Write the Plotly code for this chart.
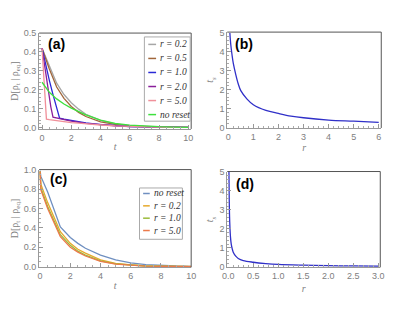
import plotly.graph_objects as go

W, H = 396, 314


def px(x):
    return x / W


def py(y):
    return 1 - y / H


# ---------------- Panel (a) data ----------------
t_a_r02 = [0, 0.5, 1, 1.5, 2, 2.5, 3, 4, 5, 6, 7, 8, 9, 10]
D_a_r02 = [0.42, 0.33, 0.235, 0.175, 0.132, 0.098, 0.071, 0.038, 0.02, 0.011, 0.006, 0.0035, 0.002, 0.001]
t_a_r05 = [0, 0.5, 1, 1.5, 2, 2.5, 3, 4, 5, 6, 7, 8, 9, 10]
D_a_r05 = [0.42, 0.31, 0.215, 0.155, 0.112, 0.081, 0.059, 0.031, 0.017, 0.009, 0.005, 0.003, 0.002, 0.001]
t_a_r10 = [0, 0.25, 0.5, 0.75, 1.0, 1.2, 1.5, 2, 2.5, 3, 4, 5, 6, 7, 8, 9, 10]
D_a_r10 = [0.42, 0.33, 0.25, 0.175, 0.1, 0.05, 0.045, 0.037, 0.03, 0.025, 0.016, 0.01, 0.006, 0.004, 0.0025, 0.0015, 0.001]
t_a_r20 = [0, 0.2, 0.4, 0.6, 0.75, 1, 1.5, 2, 3, 4, 5, 6, 7, 8, 9, 10]
D_a_r20 = [0.42, 0.31, 0.2, 0.11, 0.055, 0.05, 0.041, 0.034, 0.023, 0.015, 0.01, 0.006, 0.004, 0.0025, 0.0015, 0.001]
t_a_r50 = [0, 0.3, 0.5, 1, 1.5, 2, 2.5, 3, 4, 5, 6, 7, 8, 9, 10]
D_a_r50 = [0.42, 0.045, 0.042, 0.036, 0.03, 0.027, 0.024, 0.02, 0.014, 0.009, 0.006, 0.004, 0.0025, 0.0015, 0.001]
t_a_nores = [0, 0.5, 1, 1.5, 2, 2.5, 3, 4, 5, 6, 7, 8, 9, 10]
D_a_nores = [0.24, 0.187, 0.152, 0.125, 0.103, 0.086, 0.068, 0.04, 0.022, 0.013, 0.008, 0.005, 0.003, 0.002]

labels_a = ["r = 0.2", "r = 0.5", "r = 1.0", "r = 2.0", "r = 5.0", "no reset"]
colors_a = ["#a6a6a6", "#a0663a", "#2a2ad6", "#8a1f9a", "#f0909a", "#3ee03e"]
series_a = [(t_a_r02, D_a_r02), (t_a_r05, D_a_r05), (t_a_r10, D_a_r10),
            (t_a_r20, D_a_r20), (t_a_r50, D_a_r50), (t_a_nores, D_a_nores)]

# ---------------- Panel (b) data ----------------
r_b = [0.065, 0.1, 0.15, 0.2, 0.3, 0.4, 0.5, 0.75, 1, 1.5, 2, 2.5, 3, 4, 5, 6]
ts_b = [5.0, 4.4, 3.85, 3.4, 2.8, 2.3, 1.95, 1.5, 1.2, 0.9, 0.74, 0.6, 0.51, 0.39, 0.33, 0.27]

# ---------------- Panel (c) data ----------------
t_c = [0, 0.05, 0.5, 1.0, 1.34, 2, 2.5, 3, 4, 5, 6, 7, 8, 9, 10]
D_c_nores = [0.99, 0.93, 0.77, 0.56, 0.41, 0.30, 0.24, 0.19, 0.12, 0.07, 0.04, 0.022, 0.012, 0.007, 0.004]
D_c_r02 = [0.98, 0.85, 0.66, 0.47, 0.36, 0.24, 0.18, 0.14, 0.07, 0.035, 0.018, 0.009, 0.005, 0.003, 0.002]
D_c_r10 = [0.98, 0.81, 0.62, 0.44, 0.33, 0.22, 0.16, 0.12, 0.06, 0.03, 0.015, 0.007, 0.004, 0.002, 0.001]
D_c_r50 = [0.98, 0.79, 0.60, 0.42, 0.31, 0.20, 0.15, 0.11, 0.055, 0.027, 0.013, 0.006, 0.003, 0.002, 0.001]

labels_c = ["no reset", "r = 0.2", "r = 1.0", "r = 5.0"]
colors_c = ["#6f8fc0", "#e6a92c", "#9bbb3a", "#ec7a4a"]
series_c = [D_c_nores, D_c_r02, D_c_r10, D_c_r50]

# ---------------- Panel (d) data ----------------
r_d = [0.014, 0.02, 0.03, 0.045, 0.06, 0.08, 0.1, 0.15, 0.2, 0.3, 0.5, 0.75, 1.0, 1.5, 2.0, 2.5, 3.0]
ts_d = [5.0, 3.5, 2.35, 1.57, 1.2, 0.95, 0.78, 0.57, 0.45, 0.34, 0.25, 0.18, 0.135, 0.095, 0.07, 0.057, 0.047]

fig = go.Figure()

for (tt, dd), c, n in zip(series_a, colors_a, labels_a):
    fig.add_trace(go.Scatter(x=tt, y=dd, mode="lines", line=dict(color=c, width=1.3),
                             xaxis="x", yaxis="y", name=n, showlegend=False))
fig.add_trace(go.Scatter(x=r_b, y=ts_b, mode="lines", line=dict(color="#3030c8", width=1.3, shape="spline"),
                         xaxis="x2", yaxis="y2", showlegend=False))
for dd, c, n in zip(series_c, colors_c, labels_c):
    fig.add_trace(go.Scatter(x=t_c, y=dd, mode="lines", line=dict(color=c, width=1.3),
                             xaxis="x3", yaxis="y3", name=n, showlegend=False))
fig.add_trace(go.Scatter(x=r_d, y=ts_d, mode="lines", line=dict(color="#3030c8", width=1.3, shape="spline"),
                         xaxis="x4", yaxis="y4", showlegend=False))

tickfont = dict(family="Liberation Sans", size=9, color="#808080")
titlefont = dict(family="Liberation Serif", size=10, color="#808080")


def ax(domain, rng, dtick, mdtick, fmt=None, title=None, anchor=None, standoff=1):
    d = dict(domain=domain, range=rng, dtick=dtick, tick0=0, ticks="inside", ticklen=4,
             tickcolor="#999", tickwidth=1, showline=True, linecolor="#999", linewidth=1,
             mirror=False, showgrid=False, zeroline=False, tickfont=tickfont,
             minor=dict(ticks="inside", ticklen=2, dtick=mdtick, tickcolor="#aaa", showgrid=False),
             anchor=anchor)
    if fmt:
        d["tickformat"] = fmt
    if title:
        d["title"] = dict(text=title, font=titlefont, standoff=standoff)
    return d


dom_ax = [px(35), px(191)]
dom_ay = [py(128), py(29)]
dom_bx = [px(228), px(386)]
dom_by = [py(127), py(28)]
dom_cx = [px(35), px(191)]
dom_cy = [py(271), py(170)]
dom_dx = [px(228), px(385)]
dom_dy = [py(271), py(172)]

ytitle = "D[ρ<sub>t</sub> | ρ<sub>eq</sub>]"

fig.update_layout(
    width=W, height=H, margin=dict(l=0, r=0, t=0, b=0),
    paper_bgcolor="white", plot_bgcolor="white", showlegend=False,
    xaxis=ax(dom_ax, [-0.2, 10.2], 2, 0.5, title="<i>t</i>", anchor="y"),
    yaxis=ax(dom_ay, [-0.0067, 0.5], 0.1, 0.02, fmt=".1f", title=ytitle, anchor="x", standoff=3),
    xaxis2=ax(dom_bx, [-0.04, 6.1], 1, 0.2, title="<i>r</i>", anchor="y2"),
    yaxis2=ax(dom_by, [-0.03, 5.05], 1, 0.2, title="<i>t<sub>s</sub></i>", anchor="x2", standoff=3),
    xaxis3=ax(dom_cx, [-0.065, 10.0], 2, 0.5, title="<i>t</i>", anchor="y3"),
    yaxis3=ax(dom_cy, [-0.007, 1.0], 0.2, 0.05, fmt=".1f", title=ytitle, anchor="x3", standoff=3),
    xaxis4=ax(dom_dx, [-0.02, 3.04], 0.5, 0.1, fmt=".1f", title="<i>r</i>", anchor="y4", standoff=4),
    yaxis4=ax(dom_dy, [-0.02, 5.02], 1, 0.2, title="<i>t<sub>s</sub></i>", anchor="x4", standoff=3),
)

shapes = []
annotations = []
# Darker top/right frame edges
for xd, yd in [(dom_ax, dom_ay), (dom_bx, dom_by), (dom_cx, dom_cy), (dom_dx, dom_dy)]:
    shapes.append(dict(type="line", xref="paper", yref="paper", x0=xd[0], x1=xd[1], y0=yd[1], y1=yd[1],
                       line=dict(color="#555", width=1)))
    shapes.append(dict(type="line", xref="paper", yref="paper", x0=xd[1], x1=xd[1], y0=yd[0], y1=yd[1],
                       line=dict(color="#555", width=1)))

# Panel letters
for txt, x0, yc in [("(a)", 42, 40), ("(b)", 234, 40), ("(c)", 44, 180), ("(d)", 235, 185)]:
    annotations.append(dict(text="<b>" + txt + "</b>", xref="paper", yref="paper", x=px(x0), y=py(yc),
                            xanchor="left", yanchor="middle", showarrow=False,
                            font=dict(family="Liberation Sans", size=14, color="black")))

legfont = dict(family="Liberation Serif", size=9.5, color="#333")

# Legend (a)
shapes.append(dict(type="rect", xref="paper", yref="paper", x0=px(143), x1=px(190), y0=py(120), y1=py(33),
                   line=dict(color="#aaa", width=1), fillcolor="white", layer="above"))
for i, (n, c) in enumerate(zip(labels_a, colors_a)):
    yy = 40.7 + 14.5 * i
    shapes.append(dict(type="line", xref="paper", yref="paper", x0=px(147), x1=px(155), y0=py(yy), y1=py(yy),
                       line=dict(color=c, width=1.5), layer="above"))
    annotations.append(dict(text="<i>" + n + "</i>", xref="paper", yref="paper", x=px(157), y=py(yy),
                            xanchor="left", yanchor="middle", showarrow=False, font=legfont))

# Legend (c)
shapes.append(dict(type="rect", xref="paper", yref="paper", x0=px(138), x1=px(182), y0=py(242), y1=py(189),
                   line=dict(color="#aaa", width=1), fillcolor="white", layer="above"))
for i, (n, c) in enumerate(zip(labels_c, colors_c)):
    yy = 194.7 + 12.75 * i
    shapes.append(dict(type="line", xref="paper", yref="paper", x0=px(141.7), x1=px(148.5), y0=py(yy), y1=py(yy),
                       line=dict(color=c, width=1.5), layer="above"))
    annotations.append(dict(text="<i>" + n + "</i>", xref="paper", yref="paper", x=px(151), y=py(yy),
                            xanchor="left", yanchor="middle", showarrow=False, font=legfont))

fig.update_layout(shapes=shapes, annotations=annotations)
fig.write_html("out.html", config={"displayModeBar": False},
               post_script="document.body.style.margin='0';document.body.style.overflow='hidden';")
